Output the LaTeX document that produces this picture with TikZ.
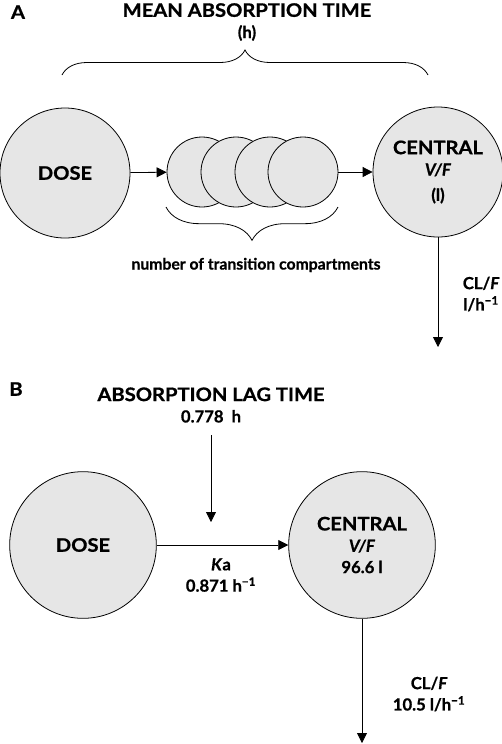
\documentclass[tikz,border=0pt]{standalone}
\usepackage{fontspec}
\setmainfont{Lato}[BoldFeatures={FakeBold=0.8},BoldItalicFeatures={FakeBold=0.8}]
\newfontfamily\capfont{Lato}[FakeStretch=1.08,BoldFeatures={FakeBold=0.8}]
\usetikzlibrary{arrows.meta,decorations.pathreplacing}
\definecolor{compfill}{HTML}{E6E6E6}
\newcommand{\caps}[1]{{\capfont\fontsize{14}{16}\selectfont\bfseries #1}}
\tikzset{
  comp/.style={circle,draw,fill=compfill,line width=0.6pt,align=center,inner sep=0pt},
  bigA/.style={comp,minimum size=97.5pt},
  smallA/.style={comp,minimum size=52.5pt},
  bigB/.style={comp,minimum size=110pt},
  lbl/.style={align=center},
  brc/.style={decorate,decoration={brace,amplitude=#1},line width=0.6pt},
}

\begin{document}
\begin{tikzpicture}[x=0.75pt,y=-0.75pt,font=\fontsize{12.5}{16}\selectfont\bfseries,
  >={Triangle[length=7.5pt,width=7.5pt]},line width=0.6pt]
\useasboundingbox (0,0) rectangle (502,744);
% panel A
\node (labA) at (18,12) {\caps{A}};
\node[lbl] (matT) at (247,22) {\caps{MEAN ABSORPTION TIME}\\(h)};
\node[bigA] (doseA) at (65,173) {\caps{DOSE}};
\node[smallA] (c1) at (202,172) {};
\node[smallA] (c2) at (236,172) {};
\node[smallA] (c3) at (270,172) {};
\node[smallA] (c4) at (303,172) {};
\node[bigA] (centralA) at (438,172) {\caps{CENTRAL}\\\textit{V/F}\\[3pt](l)};
\node[font=\fontsize{11.8}{14}\selectfont\bfseries] (nTrans) at (256,265) {number of transition compartments};
\node[lbl,anchor=west] (clA) at (458,294) {CL/\textit{F}\\l/h\textsuperscript{−1}};
\coordinate (clAend) at (438,347);
\draw[brc=18.75pt] (62,75) -- (428,75);
\draw[brc=25pt] (338,207) -- (166,207);
\path[->] (doseA) edge (c1);
\path[->] (c4) edge (centralA);
\draw[->] (centralA) -- (clAend);
% panel B
\node (labB) at (16,389) {\caps{B}};
\node[lbl] (lagT) at (211,405) {\caps{ABSORPTION LAG TIME}\\0.778~~h};
\coordinate (lagEnd) at (211,522);
\node[bigB] (doseB) at (83,545) {\caps{DOSE}};
\node[bigB] (centralB) at (362,545) {\caps{CENTRAL}\\\textit{V/F}\\96.6 l};
\node[lbl] (ka) at (221,575) {\textit{K}a\\0.871 h\textsuperscript{−1}};
\node[lbl,anchor=west] (clB) at (388,694) {CL/\textit{F}\\10.5 l/h\textsuperscript{−1}};
\coordinate (clBend) at (362,743);
\draw[->,shorten <=6pt] (lagT) -- (lagEnd);
\path[->] (doseB) edge (centralB);
\draw[->] (centralB) -- (clBend);
\end{tikzpicture}
\end{document}
